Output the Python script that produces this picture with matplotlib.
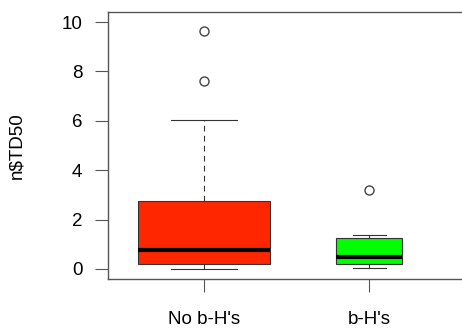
import matplotlib
matplotlib.use("Agg")
import matplotlib.pyplot as plt

# box statistics (R-style boxplot)
labels = ["No b-H's", "b-H's"]
q1 = [0.19, 0.19]
med = [0.76, 0.47]
q3 = [2.76, 1.27]
whislo = [0.0, 0.02]
whishi = [6.03, 1.37]
fliers = [[7.63, 9.65], [3.19]]
colors = ["#FF2600", "#00FF00"]

plt.rcParams["font.family"] = ["Liberation Sans", "DejaVu Sans"]
plt.rcParams["font.size"] = 13.5

stats = []
for i in range(len(labels)):
    stats.append(dict(label=labels[i], q1=q1[i], med=med[i], q3=q3[i],
                      whislo=whislo[i], whishi=whishi[i], fliers=fliers[i]))

fig = plt.figure(figsize=(4.62, 3.28), dpi=100)
ax = fig.add_axes([108 / 462, 49 / 328, 357 / 462, 267 / 328])

bp = ax.bxp(stats, positions=[1, 2], widths=[0.8, 0.4], capwidths=[0.4, 0.2],
            patch_artist=True,
            boxprops=dict(edgecolor="#333333", linewidth=0.8),
            medianprops=dict(color="black", linewidth=3, solid_capstyle="butt"),
            whiskerprops=dict(color="#333333", linewidth=0.8, linestyle=(0, (5.1, 3.9))),
            capprops=dict(color="#333333", linewidth=0.8),
            flierprops=dict(marker="o", markersize=6.5, markerfacecolor="none",
                            markeredgecolor="#444444", markeredgewidth=1))
for patch, c in zip(bp["boxes"], colors):
    patch.set_facecolor(c)

ax.set_xlim(0.42, 2.58)
ax.set_ylim(-0.41, 10.41)
ax.set_yticks([0, 2, 4, 6, 8, 10])
ax.set_ylabel("n$TD50", labelpad=26)
for s in ax.spines.values():
    s.set_color("#555555")
    s.set_linewidth(1)
ax.tick_params(axis="both", length=9.4, width=0.8, color="#555555", pad=9)
ax.tick_params(axis="x", pad=13.5)

fig.savefig("out.png", dpi=100)
